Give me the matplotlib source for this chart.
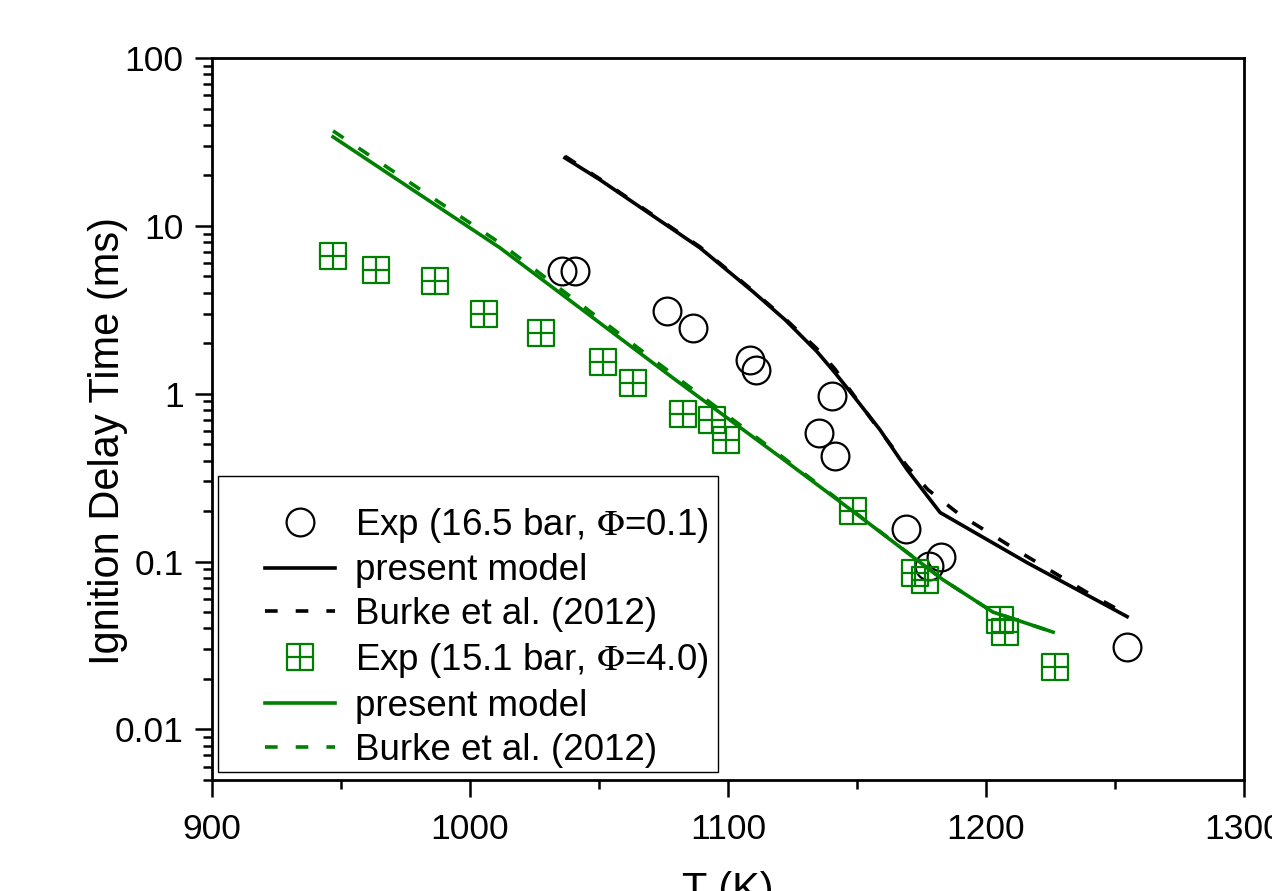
import numpy as np
import matplotlib
matplotlib.use("Agg")
import matplotlib.pyplot as plt
from matplotlib.path import Path
from matplotlib.patches import Rectangle
from matplotlib.ticker import FixedLocator, LogLocator, FuncFormatter, NullFormatter

plt.rcParams['font.family'] = ['Liberation Sans', 'DejaVu Sans']
plt.rcParams['mathtext.fontset'] = 'stix'

# Exp 16.5 bar, phi=0.1
t_exp1 = [1035.7, 1040.7, 1076.4, 1086.4, 1108.5, 1110.9, 1140.3, 1135.3, 1141.5,
          1169.0, 1178.0, 1182.6, 1254.7]
tau_exp1 = [5.40, 5.35, 3.12, 2.47, 1.59, 1.39, 0.97, 0.586, 0.428,
            0.157, 0.094, 0.107, 0.0312]

# present model / Burke, phi=0.1
t_mod1 = [1036.8, 1050.4, 1089.1, 1109.7, 1122.1, 1134.5, 1141.5, 1147.3, 1158.9,
          1169.4, 1182.2, 1215.9, 1254.7]
tau_mod1 = [25.4, 18.8, 7.4, 4.05, 2.76, 1.78, 1.33, 1.03, 0.61,
            0.353, 0.196, 0.0986, 0.047]
t_burke1 = [1036.8, 1050.4, 1089.1, 1109.7, 1122.1, 1134.5, 1141.5, 1147.3, 1158.9,
            1169.4, 1177.5, 1189.9, 1214.3, 1239.5, 1252.0]
tau_burke1 = [26.0, 19.0, 7.5, 4.1, 2.8, 1.85, 1.40, 1.05, 0.60,
              0.37, 0.268, 0.19, 0.111, 0.065, 0.051]

# Exp 15.1 bar, phi=4.0
t_exp2 = [946.9, 963.6, 986.4, 1005.4, 1027.5, 1051.6, 1063.2, 1082.6, 1093.8,
          1099.2, 1148.4, 1172.5, 1176.4, 1205.4, 1207.4, 1226.7]
tau_exp2 = [6.63, 5.47, 4.71, 2.99, 2.31, 1.55, 1.16, 0.76, 0.70,
            0.53, 0.199, 0.086, 0.078, 0.045, 0.038, 0.0237]

# present model / Burke, phi=4.0
t_mod2 = [946.9, 1011.6, 1078.7, 1120.2, 1151.2, 1183.3, 1202.7, 1226.0]
tau_mod2 = [33.9, 7.4, 1.24, 0.42, 0.185, 0.078, 0.050, 0.038]
t_burke2 = [946.9, 1011.6, 1078.7, 1120.2, 1151.2, 1183.3, 1202.7, 1226.0]
tau_burke2 = [36.8, 7.9, 1.30, 0.43, 0.186, 0.078, 0.050, 0.038]

green = '#008000'

# marcador cuadrado con cruz
verts = [(-1, -1), (1, -1), (1, 1), (-1, 1), (-1, -1),
         (0, -1), (0, 1), (-1, 0), (1, 0)]
codes = [Path.MOVETO, Path.LINETO, Path.LINETO, Path.LINETO, Path.CLOSEPOLY,
         Path.MOVETO, Path.LINETO, Path.MOVETO, Path.LINETO]
sq_cross = Path(verts, codes)

fig = plt.figure(figsize=(12.72, 8.91), dpi=100)
ax = fig.add_axes([0.1667, 0.1246, 0.8113, 0.8103])

ax.plot(t_exp1, tau_exp1, 'o', ms=20, mfc='none', mec='black', mew=1.6,
        label='Exp (16.5 bar, $\\Phi$=0.1)')
ax.plot(t_mod1, tau_mod1, '-', color='black', lw=2.6, label='present model')
ax.plot(t_burke1, tau_burke1, color='black', lw=2.6, dashes=(3.5, 5),
        label='Burke et al. (2012)')
ax.plot(t_exp2, tau_exp2, linestyle='none', marker=sq_cross, ms=19, mfc='none',
        mec=green, mew=1.6, label='Exp (15.1 bar, $\\Phi$=4.0)')
ax.plot(t_mod2, tau_mod2, '-', color=green, lw=2.6, label='present model')
ax.plot(t_burke2, tau_burke2, color=green, lw=2.6, dashes=(3.5, 5),
        label='Burke et al. (2012)')

ax.set_yscale('log')
ax.set_xlim(900, 1300)
ax.set_ylim(0.005, 100)

ax.xaxis.set_major_locator(FixedLocator([900, 1000, 1100, 1200, 1300]))
ax.xaxis.set_minor_locator(FixedLocator([950, 1050, 1150, 1250]))
ax.yaxis.set_major_locator(LogLocator(base=10, numticks=10))
ax.yaxis.set_minor_locator(LogLocator(base=10, subs=np.arange(2, 10), numticks=20))
ax.yaxis.set_major_formatter(FuncFormatter(lambda v, p: '%g' % v))
ax.yaxis.set_minor_formatter(NullFormatter())

ax.tick_params(which='major', direction='out', length=12.5, width=1.8,
               labelsize=25.5, pad=8, top=False, right=False)
ax.tick_params(axis='x', which='major', pad=11)
ax.tick_params(which='minor', direction='out', length=6.5, width=1.8,
               top=False, right=False)
for s in ax.spines.values():
    s.set_linewidth(2.0)

ax.set_xlabel('T (K)', fontsize=30, labelpad=18)
ax.set_ylabel('Ignition Delay Time (ms)', fontsize=30)
ax.yaxis.set_label_coords(-0.081, 0.4695)

# caja de la leyenda dibujada aparte
ax.add_patch(Rectangle((0.0058, 0.0111), 0.4845, 0.41, transform=ax.transAxes,
                       fill=False, edgecolor='black', lw=1.0, zorder=5))
leg = ax.legend(loc='upper left', bbox_to_anchor=(0.051, 0.380), borderaxespad=0,
                fontsize=26.5, frameon=False,
                labelspacing=0.24, handlelength=1.9, handletextpad=0.55,
                borderpad=0)

plt.savefig('out.png', dpi=100)
plt.close()
